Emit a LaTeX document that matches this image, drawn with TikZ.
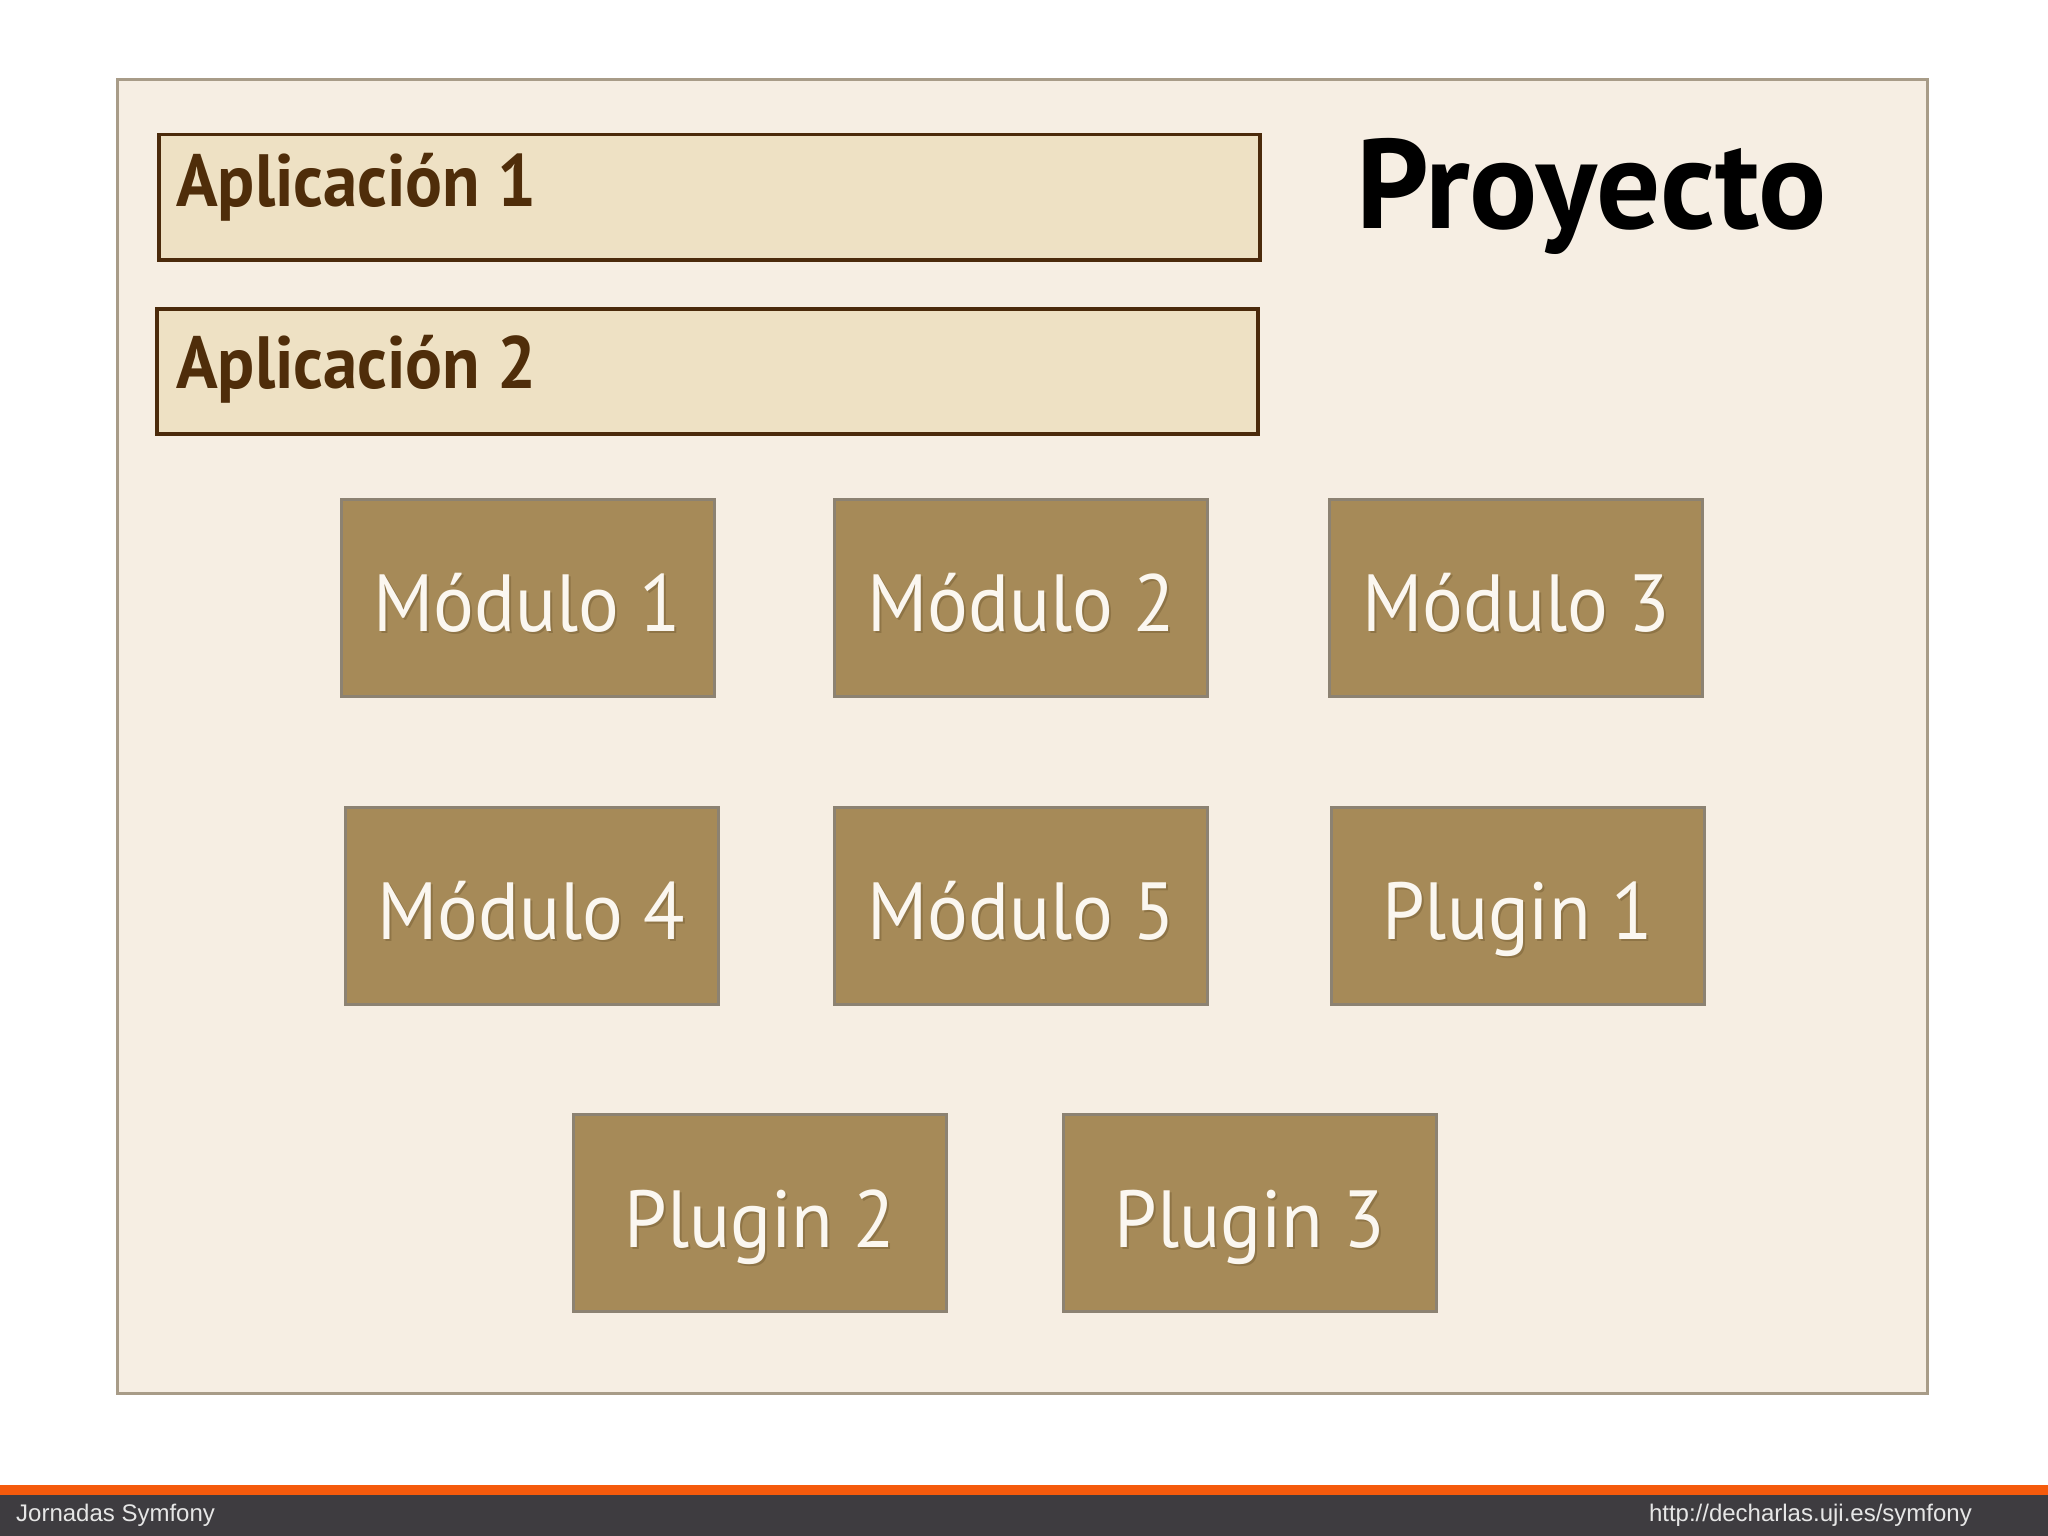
\documentclass[tikz,border=0pt]{standalone}
\usepackage{fontspec}
\setmainfont{PT Sans}
\newfontfamily\footfont{Liberation Sans}
\newfontfamily\modfont[FakeStretch=0.94]{PT Sans}
\newfontfamily\appfont[FakeStretch=0.93]{PT Sans}
\definecolor{bgC}{HTML}{F6EEE3}
\definecolor{frameC}{HTML}{A89C88}
\definecolor{appfill}{HTML}{EEE1C4}
\definecolor{appborder}{HTML}{4B2A0B}
\definecolor{apptext}{HTML}{4F2D0A}
\definecolor{modfill}{HTML}{A68A58}
\definecolor{modborder}{HTML}{8C8272}
\definecolor{modtextC}{HTML}{FBF7F0}
\definecolor{shadowC}{HTML}{8E7446}
\definecolor{orangeC}{HTML}{F55A0C}
\definecolor{darkC}{HTML}{3E3C40}
\definecolor{footC}{HTML}{E6E6E6}
\tikzset{
  outerbox/.style={draw=frameC, line width=3pt, fill=bgC, inner sep=0pt, minimum width=1810pt, minimum height=1314pt},
  appbox/.style={draw=appborder, line width=3.5pt, fill=appfill, inner sep=0pt, minimum width=1101pt, minimum height=125pt},
  apptxt/.style={font=\appfont\bfseries\fontsize{74}{80}\selectfont, text=apptext, anchor=base west, inner sep=0pt},
  modbox/.style={draw=modborder, line width=3pt, fill=modfill, inner sep=0pt, minimum width=373pt, minimum height=197pt},
  modtxt/.style={font=\modfont\fontsize{81}{90}\selectfont, text=modtextC, anchor=base, inner sep=0pt},
  modshadow/.style={font=\modfont\fontsize{81}{90}\selectfont, text=shadowC, anchor=base, inner sep=0pt},
  foottxt/.style={font=\footfont\fontsize{24}{28}\selectfont, text=footC, inner sep=0pt}
}
\newcommand{\modnode}[3]{%
  \node[modbox] (#1) at #2 {};
  \node[modshadow] (#1s) at ([xshift=2pt,yshift=-2pt]#1.center) [yshift=-34pt] {#3};
  \node[modtxt] (#1t) at ([yshift=-34pt]#1.center) {#3};
}
\begin{document}
\begin{tikzpicture}[x=1pt,y=-1pt]
\useasboundingbox (0,0) rectangle (2048,1536);
\fill[white] (0,0) rectangle (2048,1536);
\node[outerbox] (proj) at (1022.75,736.6) {};
\node[appbox] (app1) at (709.5,197.25) {};
\node[appbox] (app2) at (707.5,371.5) {};
\node[apptxt] (app1t) at (176,206) {Aplicación 1};
\node[apptxt] (app2t) at (176,388) {Aplicación 2};
\node[font=\bfseries\fontsize{127}{140}\selectfont, text=black, anchor=base west, inner sep=0pt] (projt) at (1356,228.5) {Proyecto};
\modnode{m1}{(527.5,597.5)}{Módulo 1}
\modnode{m2}{(1021.25,597.5)}{Módulo 2}
\modnode{m3}{(1516,597.5)}{Módulo 3}
\modnode{m4}{(531.5,905.5)}{Módulo 4}
\modnode{m5}{(1021.25,905.5)}{Módulo 5}
\modnode{p1}{(1517.5,905.5)}{Plugin 1}
\modnode{p2}{(760,1213)}{Plugin 2}
\modnode{p3}{(1250,1213)}{Plugin 3}
\fill[orangeC] (0,1485) rectangle (2048,1495);
\fill[darkC] (0,1495) rectangle (2048,1536);
\node[foottxt, anchor=base west] (fl) at (16,1521) {Jornadas Symfony};
\node[foottxt, anchor=base east] (fr) at (1972,1521) {http://decharlas.uji.es/symfony};
\end{tikzpicture}
\end{document}
